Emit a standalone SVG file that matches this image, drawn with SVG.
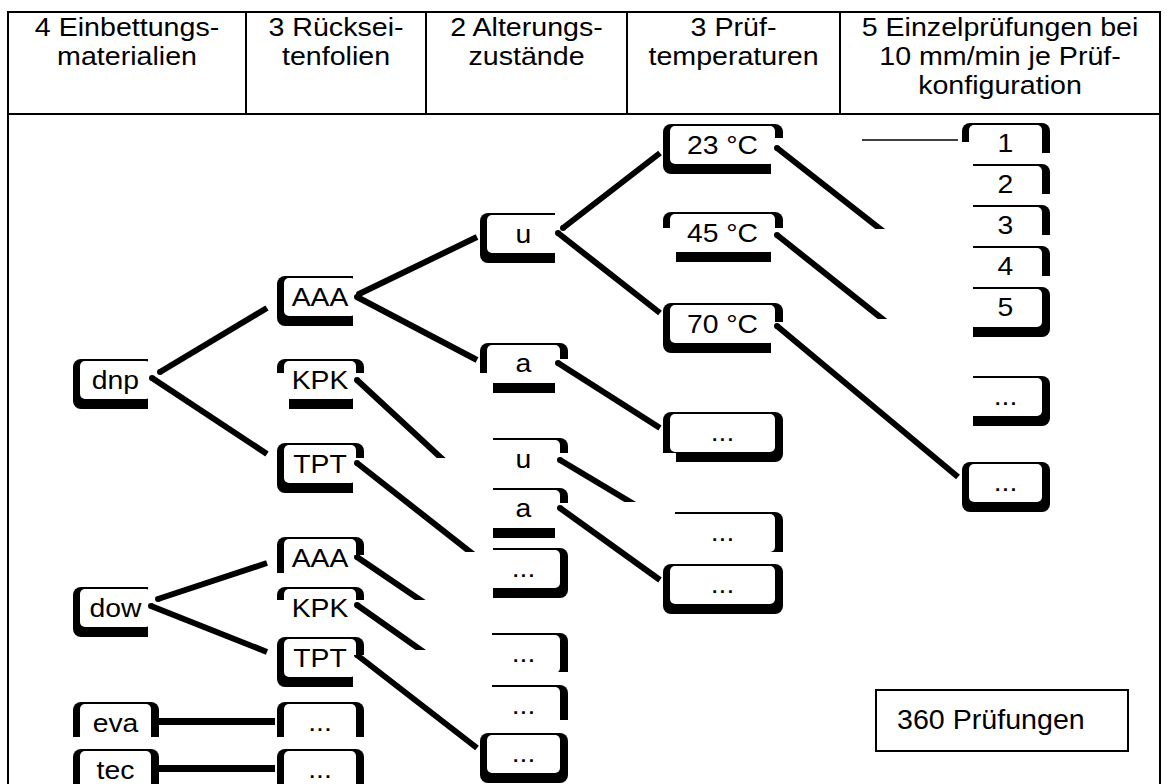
<svg xmlns="http://www.w3.org/2000/svg" width="1169" height="784" viewBox="0 0 1169 784">
<style>
.t{font-family:"Liberation Sans",Arial,Helvetica,sans-serif;font-size:26px;fill:#000;text-anchor:middle}
.fr{fill:none;stroke:#000;stroke-width:2}
.o{fill:#000}
.i{fill:#fff}
.c{fill:none;stroke:#000;stroke-width:6;stroke-linecap:butt;marker-start:url(#cap)}
.h{stroke-width:7}
.thin{fill:none;stroke:#000;stroke-width:1.5}
</style>
<defs>
<marker id="cap" viewBox="-1 -1 2 2" markerWidth="1" markerHeight="1" markerUnits="strokeWidth"><circle r="1" fill="#000"/></marker>
<clipPath id="k-x148"><rect x="0" y="0" width="148" height="784"/></clipPath>
<clipPath id="k-y737"><rect x="0" y="0" width="1169" height="737"/></clipPath>
<clipPath id="k-aaa1"><rect x="0" y="0" width="353" height="784"/></clipPath>
<clipPath id="k-kpk1"><rect x="0" y="0" width="1169" height="373"/><rect x="289" y="0" width="64" height="784"/></clipPath>
<clipPath id="k-tpt1"><rect x="0" y="0" width="1169" height="458"/><rect x="0" y="0" width="353" height="784"/></clipPath>
<clipPath id="k-aaa2"><rect x="0" y="0" width="1169" height="555"/><rect x="0" y="0" width="353" height="573"/></clipPath>
<clipPath id="k-kpk2"><rect x="0" y="0" width="1169" height="600"/><rect x="285" y="600" width="68" height="20"/></clipPath>
<clipPath id="k-tpt2"><rect x="0" y="0" width="1169" height="655"/><rect x="0" y="0" width="353" height="784"/></clipPath>
<clipPath id="k-u1"><rect x="0" y="0" width="555" height="784"/></clipPath>
<clipPath id="k-a1"><rect x="0" y="0" width="1169" height="359"/><rect x="0" y="0" width="555" height="373"/><rect x="493" y="0" width="62" height="784"/></clipPath>
<clipPath id="k-u2"><rect x="493" y="0" width="676" height="453"/><rect x="493" y="453" width="62" height="19"/></clipPath>
<clipPath id="k-a2"><rect x="493" y="0" width="676" height="503"/><rect x="493" y="503" width="62" height="281"/></clipPath>
<clipPath id="k-x493"><rect x="493" y="0" width="676" height="784"/></clipPath>
<clipPath id="k-c3d"><rect x="492" y="0" width="677" height="672"/></clipPath>
<clipPath id="k-c3e"><rect x="492" y="0" width="677" height="720"/></clipPath>
<clipPath id="k-23"><rect x="0" y="0" width="1169" height="138"/><rect x="0" y="0" width="771" height="784"/></clipPath>
<clipPath id="k-45"><rect x="0" y="0" width="1169" height="228"/><rect x="676" y="0" width="95" height="784"/></clipPath>
<clipPath id="k-70"><rect x="0" y="0" width="1169" height="322"/><rect x="0" y="0" width="771" height="784"/></clipPath>
<clipPath id="k-c4a"><rect x="0" y="0" width="1169" height="453"/><rect x="676" y="0" width="493" height="784"/></clipPath>
<clipPath id="k-c4b"><rect x="675" y="0" width="494" height="552"/></clipPath>
<clipPath id="k-n1"><rect x="0" y="0" width="1169" height="142"/><rect x="973" y="0" width="196" height="153"/></clipPath>
<clipPath id="k-n2"><rect x="973" y="0" width="196" height="194"/></clipPath>
<clipPath id="k-n3"><rect x="973" y="0" width="196" height="235"/></clipPath>
<clipPath id="k-n4"><rect x="973" y="0" width="196" height="276"/></clipPath>
<clipPath id="k-x973"><rect x="973" y="0" width="196" height="784"/></clipPath>
<clipPath id="cl458"><rect x="0" y="0" width="1169" height="458"/></clipPath>
<clipPath id="cl552"><rect x="0" y="0" width="1169" height="552"/></clipPath>
<clipPath id="cl600"><rect x="0" y="0" width="1169" height="600"/></clipPath>
<clipPath id="cl650"><rect x="0" y="0" width="1169" height="650"/></clipPath>
<clipPath id="cl502"><rect x="0" y="0" width="1169" height="502"/></clipPath>
<clipPath id="cl229"><rect x="0" y="0" width="1169" height="229"/></clipPath>
<clipPath id="cl319"><rect x="0" y="0" width="1169" height="319"/></clipPath>
</defs>
<rect x="0" y="0" width="1169" height="784" fill="#fff"/>

<g id="table">
<path class="fr" d="M8 784 V12 H1160 V784 M8 114 H1160 M246 12 V114 M426 12 V114 M627 12 V114 M840 12 V114"/>
<text class="t" transform="translate(127,36) scale(1.1,1)">4 Einbettungs-</text>
<text class="t" transform="translate(127,65) scale(1.1,1)">materialien</text>
<text class="t" transform="translate(336,36) scale(1.1,1)">3 Rücksei-</text>
<text class="t" transform="translate(336,65) scale(1.1,1)">tenfolien</text>
<text class="t" transform="translate(526.5,36) scale(1.1,1)">2 Alterungs-</text>
<text class="t" transform="translate(526.5,65) scale(1.1,1)">zustände</text>
<text class="t" transform="translate(733.5,36) scale(1.1,1)">3 Prüf-</text>
<text class="t" transform="translate(733.5,65) scale(1.1,1)">temperaturen</text>
<text class="t" transform="translate(1000,36) scale(1.1,1)">5 Einzelprüfungen bei</text>
<text class="t" transform="translate(1000,65) scale(1.1,1)">10 mm/min je Prüf-</text>
<text class="t" transform="translate(1000,94) scale(1.1,1)">konfiguration</text>
</g>

<g id="connectors">
<path class="c" d="M160 372 L267 308"/>
<path class="c" d="M152 378 L267 454"/>
<path class="c" d="M158 599 L267 563"/>
<path class="c" d="M151 606 L267 652"/>
<path class="c h" d="M152 721.5 H275"/>
<path class="c h" d="M152 768.5 H275"/>
<path class="c" d="M359 294 L477 237"/>
<path class="c" d="M357 297 L477 360"/>
<path class="c" clip-path="url(#cl458)" d="M357 380 L452 468"/>
<path class="c" clip-path="url(#cl552)" d="M357 463 L483 562"/>
<path class="c" clip-path="url(#cl600)" d="M357 557 L435 610"/>
<path class="c" clip-path="url(#cl650)" d="M357 605 L435 660"/>
<path class="c" d="M357 655 L477 748"/>
<path class="c" d="M563 228 L660 153"/>
<path class="c" d="M558 233 L660 313"/>
<path class="c" d="M558 363 L660 428"/>
<path class="c" clip-path="url(#cl502)" d="M560 460 L647 512"/>
<path class="c" d="M560 508 L660 580"/>
<path class="c" clip-path="url(#cl229)" d="M777 148 L893 239"/>
<path class="c" clip-path="url(#cl319)" d="M777 235 L895 329"/>
<path class="c" d="M777 326 L958 477"/>
<path class="thin" d="M862 140 H925"/>
<path class="thin" stroke-width="2.5" d="M925 140 H958"/>
</g>

<!-- column 1 -->
<g id="n-dnp" clip-path="url(#k-x148)"><rect class="o" x="73" y="359" width="86" height="50" rx="8"/><rect class="i" x="80" y="361" width="71" height="38" rx="5"/><text class="t" transform="translate(115.5,389) scale(1.09,1)">dnp</text></g>
<g id="n-dow" clip-path="url(#k-x148)"><rect class="o" x="73" y="587" width="86" height="50" rx="8"/><rect class="i" x="80" y="589" width="71" height="38" rx="5"/><text class="t" transform="translate(115.5,617) scale(1.09,1)">dow</text></g>
<g id="n-eva" clip-path="url(#k-y737)"><rect class="o" x="73" y="702" width="86" height="50" rx="8"/><rect class="i" x="80" y="704" width="71" height="38" rx="5"/><text class="t" transform="translate(115.5,732) scale(1.09,1)">eva</text></g>
<g id="n-tec"><rect class="o" x="73" y="749" width="86" height="50" rx="8"/><rect class="i" x="80" y="751" width="71" height="38" rx="5"/><text class="t" transform="translate(115.5,779) scale(1.09,1)">tec</text></g>

<!-- column 2 -->
<g id="n-aaa1" clip-path="url(#k-aaa1)"><rect class="o" x="277" y="276" width="87" height="50" rx="8"/><rect class="i" x="284" y="278" width="72" height="38" rx="5"/><text class="t" transform="translate(320,306) scale(1.09,1)">AAA</text></g>
<g id="n-kpk1" clip-path="url(#k-kpk1)"><rect class="o" x="277" y="359" width="87" height="50" rx="8"/><rect class="i" x="284" y="361" width="72" height="38" rx="5"/><text class="t" transform="translate(320,389) scale(1.09,1)">KPK</text></g>
<g id="n-tpt1" clip-path="url(#k-tpt1)"><rect class="o" x="277" y="443" width="87" height="50" rx="8"/><rect class="i" x="284" y="445" width="72" height="38" rx="5"/><text class="t" transform="translate(320,473) scale(1.09,1)">TPT</text></g>
<g id="n-aaa2" clip-path="url(#k-aaa2)"><rect class="o" x="277" y="537" width="87" height="50" rx="8"/><rect class="i" x="284" y="539" width="72" height="38" rx="5"/><text class="t" transform="translate(320,567) scale(1.09,1)">AAA</text></g>
<g id="n-kpk2" clip-path="url(#k-kpk2)"><rect class="o" x="277" y="587" width="87" height="50" rx="8"/><rect class="i" x="284" y="589" width="72" height="38" rx="5"/><text class="t" transform="translate(320,617) scale(1.09,1)">KPK</text></g>
<g id="n-tpt2" clip-path="url(#k-tpt2)"><rect class="o" x="277" y="637" width="87" height="50" rx="8"/><rect class="i" x="284" y="639" width="72" height="38" rx="5"/><text class="t" transform="translate(320,667) scale(1.09,1)">TPT</text></g>
<g id="n-c2a" clip-path="url(#k-y737)"><rect class="o" x="277" y="702" width="87" height="50" rx="8"/><rect class="i" x="284" y="704" width="72" height="38" rx="5"/><text class="t" transform="translate(320,731) scale(1.09,1)">...</text></g>
<g id="n-c2b"><rect class="o" x="277" y="749" width="87" height="50" rx="8"/><rect class="i" x="284" y="751" width="72" height="38" rx="5"/><text class="t" transform="translate(320,778) scale(1.09,1)">...</text></g>

<!-- column 3 -->
<g id="n-u1" clip-path="url(#k-u1)"><rect class="o" x="480" y="213" width="88" height="50" rx="8"/><rect class="i" x="487" y="215" width="73" height="38" rx="5"/><text class="t" transform="translate(523.5,243) scale(1.09,1)">u</text></g>
<g id="n-a1" clip-path="url(#k-a1)"><rect class="o" x="480" y="343" width="88" height="50" rx="8"/><rect class="i" x="487" y="345" width="73" height="38" rx="5"/><text class="t" transform="translate(523.5,372) scale(1.09,1)">a</text></g>
<g id="n-u2" clip-path="url(#k-u2)"><rect class="o" x="480" y="438" width="88" height="50" rx="8"/><rect class="i" x="487" y="440" width="73" height="38" rx="5"/><text class="t" transform="translate(523.5,468) scale(1.09,1)">u</text></g>
<g id="n-a2" clip-path="url(#k-a2)"><rect class="o" x="480" y="488" width="88" height="50" rx="8"/><rect class="i" x="487" y="490" width="73" height="38" rx="5"/><text class="t" transform="translate(523.5,517) scale(1.09,1)">a</text></g>
<g id="n-c3a" clip-path="url(#k-x493)"><rect class="o" x="480" y="548" width="88" height="50" rx="8"/><rect class="i" x="487" y="550" width="73" height="38" rx="5"/><text class="t" transform="translate(523.5,577) scale(1.09,1)">...</text></g>
<g id="n-c3b" clip-path="url(#k-c3d)"><rect class="o" x="480" y="633" width="88" height="50" rx="8"/><rect class="i" x="487" y="635" width="73" height="38" rx="5"/><text class="t" transform="translate(523.5,662) scale(1.09,1)">...</text></g>
<g id="n-c3c" clip-path="url(#k-c3e)"><rect class="o" x="480" y="685" width="88" height="50" rx="8"/><rect class="i" x="487" y="687" width="73" height="38" rx="5"/><text class="t" transform="translate(523.5,714) scale(1.09,1)">...</text></g>
<g id="n-c3d"><rect class="o" x="480" y="733" width="88" height="50" rx="8"/><rect class="i" x="487" y="735" width="73" height="38" rx="5"/><text class="t" transform="translate(523.5,762) scale(1.09,1)">...</text></g>

<!-- column 4 -->
<g id="n-23" clip-path="url(#k-23)"><rect class="o" x="663" y="124" width="120" height="50" rx="8"/><rect class="i" x="670" y="126" width="105" height="38" rx="5"/><text class="t" transform="translate(722.5,154) scale(1.09,1)">23 °C</text></g>
<g id="n-45" clip-path="url(#k-45)"><rect class="o" x="663" y="212" width="120" height="50" rx="8"/><rect class="i" x="670" y="214" width="105" height="38" rx="5"/><text class="t" transform="translate(722.5,242) scale(1.09,1)">45 °C</text></g>
<g id="n-70" clip-path="url(#k-70)"><rect class="o" x="663" y="303" width="120" height="50" rx="8"/><rect class="i" x="670" y="305" width="105" height="38" rx="5"/><text class="t" transform="translate(722.5,333) scale(1.09,1)">70 °C</text></g>
<g id="n-c4a" clip-path="url(#k-c4a)"><rect class="o" x="663" y="412" width="120" height="50" rx="8"/><rect class="i" x="670" y="414" width="105" height="38" rx="5"/><text class="t" transform="translate(722.5,441) scale(1.09,1)">...</text></g>
<g id="n-c4b" clip-path="url(#k-c4b)"><rect class="o" x="663" y="512" width="120" height="50" rx="8"/><rect class="i" x="670" y="514" width="105" height="38" rx="5"/><text class="t" transform="translate(722.5,541) scale(1.09,1)">...</text></g>
<g id="n-c4c"><rect class="o" x="663" y="564" width="120" height="50" rx="8"/><rect class="i" x="670" y="566" width="105" height="38" rx="5"/><text class="t" transform="translate(722.5,593) scale(1.09,1)">...</text></g>

<!-- column 5 -->
<g id="n-1" clip-path="url(#k-n1)"><rect class="o" x="962" y="123" width="88" height="50" rx="8"/><rect class="i" x="969" y="125" width="73" height="38" rx="5"/><text class="t" transform="translate(1005.5,152) scale(1.09,1)">1</text></g>
<g id="n-2" clip-path="url(#k-n2)"><rect class="o" x="962" y="164" width="88" height="50" rx="8"/><rect class="i" x="969" y="166" width="73" height="38" rx="5"/><text class="t" transform="translate(1005.5,193) scale(1.09,1)">2</text></g>
<g id="n-3" clip-path="url(#k-n3)"><rect class="o" x="962" y="205" width="88" height="50" rx="8"/><rect class="i" x="969" y="207" width="73" height="38" rx="5"/><text class="t" transform="translate(1005.5,234) scale(1.09,1)">3</text></g>
<g id="n-4" clip-path="url(#k-n4)"><rect class="o" x="962" y="246" width="88" height="50" rx="8"/><rect class="i" x="969" y="248" width="73" height="38" rx="5"/><text class="t" transform="translate(1005.5,275) scale(1.09,1)">4</text></g>
<g id="n-5" clip-path="url(#k-x973)"><rect class="o" x="962" y="287" width="88" height="50" rx="8"/><rect class="i" x="969" y="289" width="73" height="38" rx="5"/><text class="t" transform="translate(1005.5,316) scale(1.09,1)">5</text></g>
<g id="n-c5a" clip-path="url(#k-x973)"><rect class="o" x="962" y="376" width="88" height="50" rx="8"/><rect class="i" x="969" y="378" width="73" height="38" rx="5"/><text class="t" transform="translate(1005.5,405) scale(1.09,1)">...</text></g>
<g id="n-c5b"><rect class="o" x="962" y="462" width="88" height="50" rx="8"/><rect class="i" x="969" y="464" width="73" height="38" rx="5"/><text class="t" transform="translate(1005.5,491) scale(1.09,1)">...</text></g>

<g id="n-total">
<rect class="fr" stroke-width="1.5" x="876" y="690" width="252" height="61"/>
<text class="t" style="text-anchor:start;font-size:27px" transform="translate(897,729) scale(1.06,1)">360 Prüfungen</text>
</g>
</svg>
